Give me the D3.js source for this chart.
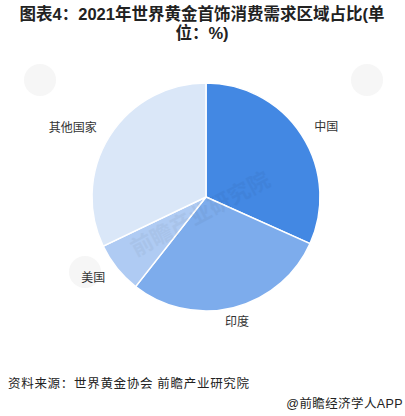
<!DOCTYPE html>
<html><head><meta charset="utf-8">
<script src="https://cdn.jsdelivr.net/npm/d3@7"></script>
<style>
html,body{margin:0;padding:0;background:#fff;}
svg{display:block;}
</style></head>
<body>
<svg id="chart" width="405" height="416"></svg>
<script>
const titleLines = ["图表4：2021年世界黄金首饰消费需求区域占比(单", "位：%)"];
const categories = ["中国", "印度", "美国", "其他国家"];
const values = [31.7, 28.9, 7.3, 32.1];
const colors = ["#4388E3", "#7DACEC", "#AFCBF3", "#DAE7F8"];
const sourceText = "资料来源：世界黄金协会 前瞻产业研究院";
const brandText = "@前瞻经济学人APP";

const svg = d3.select("#chart");
const font = "'Liberation Sans','Noto Sans CJK SC',sans-serif";
const cx = 206, cy = 197, r = 114;

// watermarks
const wm = svg.append("g").attr("fill", "#000").attr("opacity", 0.03);
[[40,80],[367,80],[85,272]].forEach(([x,y]) => {
  wm.append("circle").attr("cx", x).attr("cy", y).attr("r", 16);
});

const title = svg.append("text").attr("font-family", font).attr("font-weight", "bold")
  .attr("font-size", 16.5).attr("fill", "#222").attr("text-anchor", "middle");
titleLines.forEach((t, i) => title.append("tspan").attr("x", 202).attr("y", 20 + i * 19).text(t));

const pie = d3.pie().sort(null).value(d => d)(values);
const arc = d3.arc().innerRadius(0).outerRadius(r);
const g = svg.append("g").attr("transform", `translate(${cx},${cy})`);
g.selectAll("path").data(pie).join("path")
  .attr("d", arc)
  .attr("fill", (d, i) => colors[i])
  .attr("stroke", "#fff").attr("stroke-width", 1.5);

// faint diagonal watermark text over pie
svg.append("text").attr("font-family", font).attr("font-weight", "bold").attr("font-size", 22)
  .attr("fill", "#000").attr("opacity", 0.035)
  .attr("transform", `translate(${cx - 70},${cy + 60}) rotate(-28)`)
  .text("前瞻产业研究院");

const labelR = r + 15;
g.selectAll("text.lbl").data(pie).join("text")
  .attr("class", "lbl")
  .attr("font-family", font).attr("font-size", 12).attr("fill", "#333")
  .attr("dominant-baseline", "central")
  .each(function(d, i) {
    const a = (d.startAngle + d.endAngle) / 2;
    const x = labelR * Math.sin(a), y = -labelR * Math.cos(a);
    const s = Math.sin(a);
    const anchor = Math.abs(s) < 0.3 ? "middle" : (s > 0 ? "start" : "end");
    d3.select(this).attr("x", x).attr("y", y).attr("text-anchor", anchor).text(categories[i]);
  });

svg.append("text").attr("x", 8).attr("y", 388).attr("font-family", font)
  .attr("font-size", 12.5).attr("letter-spacing", 0.7).attr("fill", "#222").text(sourceText);
svg.append("text").attr("x", 403).attr("y", 408).attr("text-anchor", "end").attr("font-family", font)
  .attr("font-size", 12.5).attr("letter-spacing", 0.4).attr("fill", "#222").text(brandText);
</script>
</body></html>
